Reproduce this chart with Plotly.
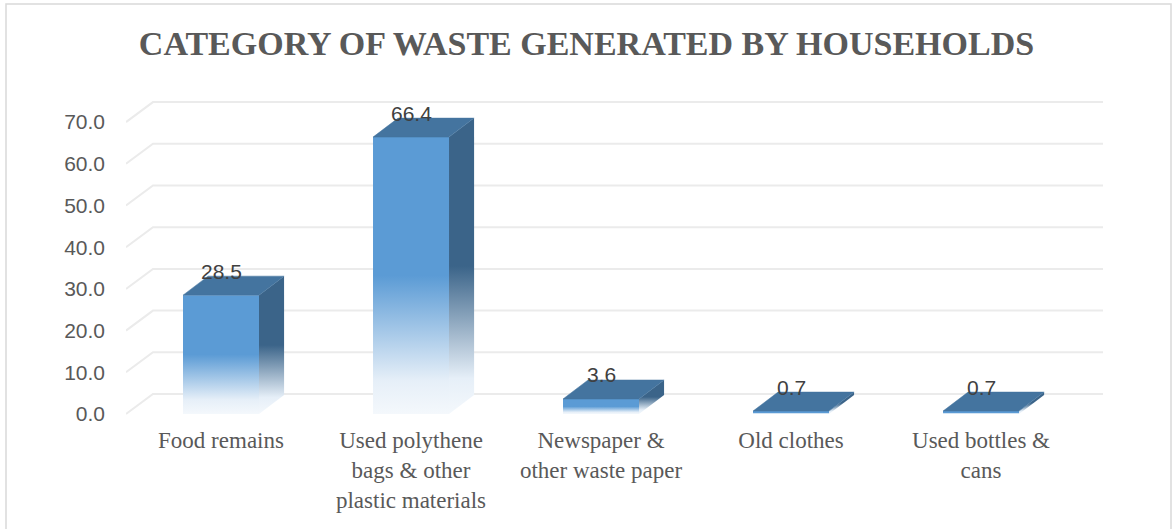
import plotly.graph_objects as go

# Household waste categories and their shares
categories = [
    "Food remains",
    "Used polythene<br>bags & other<br>plastic materials",
    "Newspaper &<br>other waste paper",
    "Old clothes",
    "Used bottles &<br>cans",
]
values = [28.5, 66.4, 3.6, 0.7, 0.7]
y_ticks = [0, 10, 20, 30, 40, 50, 60, 70]

title_text = "CATEGORY OF WASTE GENERATED BY HOUSEHOLDS"

# Figure geometry
W, H = 1173, 529
M_L, M_R, M_T, M_B = 126, 70, 95, 113
X_RANGE = [-0.5, 4.642]
Y_RANGE = [-0.48, 76.5]

# Pseudo-3D depth offsets (data units)
BAR_HALF = 0.2
BAR_DX, BAR_DY = 0.132, 4.56
WALL_DX, WALL_DY = 0.142, 4.8

FRONT = "#5B9BD5"
SIDE = "#3B6489"
TOP = "#44749F"
GRID = "#EBEBEB"

fig = go.Figure()

# Back-wall gridlines with their diagonal run along the floor edge
gx, gy = [], []
for t in y_ticks:
    gx += [X_RANGE[0], X_RANGE[0] + WALL_DX, X_RANGE[1], None]
    gy += [t, t + WALL_DY, t + WALL_DY, None]
fig.add_trace(go.Scatter(
    x=gx, y=gy, mode="lines", line=dict(color=GRID, width=2),
    hoverinfo="skip", showlegend=False,
))


def fade(color):
    return [[0, "#F4F8FC"], [0.12, "#E6EFF8"], [0.5, color], [1, color]]


for i, v in enumerate(values):
    x0, x1 = i - BAR_HALF, i + BAR_HALF
    # right side face
    fig.add_trace(go.Scatter(
        x=[x1, x1 + BAR_DX, x1 + BAR_DX, x1, x1],
        y=[0, BAR_DY, v + BAR_DY, v, 0],
        mode="lines", line=dict(width=0), fill="toself",
        fillgradient=dict(type="vertical", colorscale=fade(SIDE), start=0, stop=v + BAR_DY),
        hoverinfo="skip", showlegend=False,
    ))
    # front face
    fig.add_trace(go.Scatter(
        x=[x0, x1, x1, x0, x0],
        y=[0, 0, v, v, 0],
        mode="lines", line=dict(width=0), fill="toself",
        fillgradient=dict(type="vertical", colorscale=fade(FRONT), start=0, stop=v),
        name=categories[i].replace("<br>", " "),
        hovertemplate="%{text}<extra></extra>", text=[f"{v:.1f}"] * 5,
        showlegend=False,
    ))
    # top face
    fig.add_trace(go.Scatter(
        x=[x0, x1, x1 + BAR_DX, x0 + BAR_DX, x0],
        y=[v, v, v + BAR_DY, v + BAR_DY, v],
        mode="lines", line=dict(width=0.5, color=TOP), fill="toself", fillcolor=TOP,
        hoverinfo="skip", showlegend=False,
    ))
    # value label
    fig.add_annotation(
        x=i, y=v, text=f"{v:.1f}", showarrow=False, yshift=24,
        font=dict(family="Liberation Sans", size=21, color="#404040"),
    )

# Outer chart border
pw = W - M_L - M_R
ph = H - M_T - M_B


def px_x(p):
    return (p - M_L) / pw


def px_y(p):
    return (H - M_B - p) / ph


fig.add_shape(
    type="rect", xref="paper", yref="paper",
    x0=px_x(6), x1=px_x(1171), y0=px_y(4), y1=px_y(540),
    line=dict(color="#D9D9D9", width=1.5), fillcolor="rgba(0,0,0,0)", layer="above",
)

fig.update_layout(
    width=W, height=H,
    margin=dict(l=M_L, r=M_R, t=M_T, b=M_B),
    paper_bgcolor="white", plot_bgcolor="white",
    title=dict(
        text=f"<b>{title_text}</b>", x=0.5, xanchor="center",
        y=1 - 43 / H, yanchor="middle", yref="container",
        font=dict(family="Liberation Serif", size=34, color="#595959"),
    ),
    xaxis=dict(
        range=X_RANGE, tickvals=list(range(len(categories))), ticktext=categories,
        showgrid=False, zeroline=False, showline=False, ticks="",
        tickfont=dict(family="Liberation Serif", size=23, color="#595959"),
        ticklabelstandoff=8, fixedrange=True,
    ),
    yaxis=dict(
        range=Y_RANGE, tickvals=y_ticks, tickformat=".1f",
        showgrid=False, zeroline=False, showline=False, ticks="",
        tickfont=dict(family="Liberation Sans", size=21, color="#595959"),
        ticklabelstandoff=20, fixedrange=True,
    ),
    showlegend=False,
)

fig.write_html("out.html")
